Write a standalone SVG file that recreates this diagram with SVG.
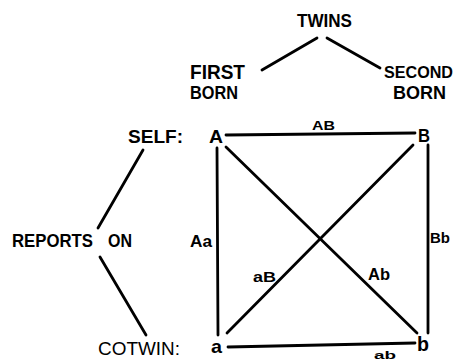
<svg xmlns="http://www.w3.org/2000/svg" width="459" height="361" viewBox="0 0 459 361">
<style>
.b{font-family:"Liberation Sans",Arial,sans-serif;font-weight:bold;fill:#000}
.r{font-family:"Liberation Sans",Arial,sans-serif;fill:#000}
.c line{stroke:#000;stroke-width:2.8;stroke-linecap:round}
</style>
<rect width="459" height="361" fill="#fff"/>
<g id="twins"><text class="b" x="297" y="27" font-size="18" textLength="55" lengthAdjust="spacingAndGlyphs">TWINS</text></g>
<g id="first-born"><text class="b" x="190" y="79" font-size="20" textLength="55" lengthAdjust="spacingAndGlyphs">FIRST</text><text class="b" x="190" y="99" font-size="19" textLength="48" lengthAdjust="spacingAndGlyphs">BORN</text></g>
<g id="second-born"><text class="b" x="384" y="78" font-size="16" textLength="69" lengthAdjust="spacingAndGlyphs">SECOND</text><text class="b" x="393" y="99" font-size="18" textLength="53" lengthAdjust="spacingAndGlyphs">BORN</text></g>
<g id="self"><text class="b" x="128" y="143" font-size="18" textLength="55" lengthAdjust="spacingAndGlyphs">SELF:</text></g>
<g id="reports-on"><text class="b" x="12" y="247" font-size="19" textLength="81" lengthAdjust="spacingAndGlyphs">REPORTS</text><text class="b" x="108" y="247" font-size="19" textLength="24" lengthAdjust="spacingAndGlyphs">ON</text></g>
<g id="cotwin"><text class="r" x="98" y="355" font-size="18" textLength="82" lengthAdjust="spacingAndGlyphs">COTWIN:</text></g>
<g id="node-A"><text class="b" x="209" y="143" font-size="18" textLength="14" lengthAdjust="spacingAndGlyphs">A</text></g>
<g id="node-B"><text class="b" x="418" y="142" font-size="19" textLength="12" lengthAdjust="spacingAndGlyphs">B</text></g>
<g id="node-a"><text class="b" x="211" y="353" font-size="19" textLength="11" lengthAdjust="spacingAndGlyphs">a</text></g>
<g id="node-b"><text class="b" x="417" y="351" font-size="20" textLength="12" lengthAdjust="spacingAndGlyphs">b</text></g>
<g class="c" id="connectors">
<line x1="262" y1="70" x2="317" y2="38"/>
<line x1="327" y1="38" x2="380" y2="68"/>
<line x1="143" y1="150" x2="98" y2="228"/>
<line x1="100" y1="257" x2="146" y2="335"/>
<line x1="226" y1="135" x2="415" y2="133"/>
<line x1="217" y1="148" x2="218" y2="335"/>
<line x1="428" y1="145" x2="428" y2="333"/>
<line x1="228" y1="347" x2="415" y2="343"/>
<line x1="226" y1="147" x2="417" y2="333"/>
<line x1="227" y1="333" x2="413" y2="145"/>
</g>
<g id="labels">
<text class="b" x="312" y="130" font-size="12" textLength="23" lengthAdjust="spacingAndGlyphs">AB</text>
<text class="b" x="190" y="247" font-size="16" textLength="22" lengthAdjust="spacingAndGlyphs">Aa</text>
<text class="b" x="430" y="243" font-size="15" textLength="20" lengthAdjust="spacingAndGlyphs">Bb</text>
<text class="b" x="253" y="282" font-size="14" textLength="23" lengthAdjust="spacingAndGlyphs">aB</text>
<text class="b" x="368" y="280" font-size="16" textLength="22" lengthAdjust="spacingAndGlyphs">Ab</text>
<text class="b" x="374" y="359" font-size="11" textLength="22" lengthAdjust="spacingAndGlyphs">ab</text>
</g>
</svg>
